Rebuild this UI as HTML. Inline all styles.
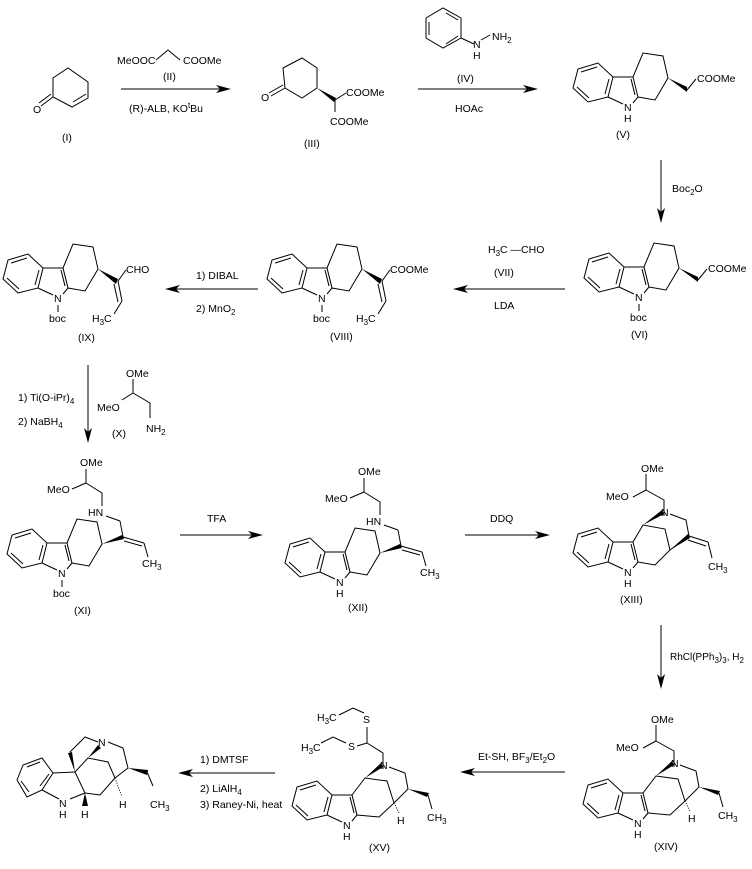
<!DOCTYPE html>
<html><head><meta charset="utf-8"><style>
html,body{margin:0;padding:0;background:#fff;}
svg{display:block;}
text{font-family:"Liberation Sans",sans-serif;font-size:10.5px;fill:#000;}
.s{font-size:8px;}
</style></head><body>
<svg width="752" height="869" viewBox="0 0 752 869" xmlns="http://www.w3.org/2000/svg">
<defs>
<g id="ind" stroke="#000" stroke-width="1" fill="none">
<polygon points="-20,-10 -15,-30 -30,-44 -50,-38 -55,-19 -40,-5"/>
<line x1="-31" y1="-40" x2="-47" y2="-35"/>
<line x1="-51" y1="-20" x2="-39" y2="-9"/>
<line x1="-23" y1="-13" x2="-19" y2="-28"/>
<line x1="-20" y1="-10" x2="-5" y2="-3"/>
<line x1="5" y1="-4" x2="10" y2="-10"/>
<line x1="10" y1="-10" x2="5" y2="-30"/>
<line x1="5" y1="-30" x2="-15" y2="-30"/>
<line x1="7" y1="-12" x2="3" y2="-28"/>
</g>
<g id="hex" stroke="#000" stroke-width="1" fill="none">
<polyline points="5,-30 15,-54 35,-51 40,-29 27,-7 10,-10"/>
</g>
<g id="acetal" stroke="#000" stroke-width="1" fill="none">
<polyline points="18,-82 36,-72 36,-56"/>
<line x1="18" y1="-82" x2="18" y2="-98"/>
<line x1="18" y1="-82" x2="5" y2="-75"/>
</g>
</defs>

<!-- (I) -->
<g stroke="#000" fill="none">
<polygon points="53,78 68,68 88,82 88,98 72,107 53,97"/>
<line x1="86" y1="94" x2="73" y2="102"/>
<line x1="53" y1="97" x2="41" y2="106"/>
<line x1="51" y1="94" x2="39" y2="103"/>
</g>
<text x="33" y="113">O</text>
<text x="62" y="141">(I)</text>

<!-- arrow 1 -->
<g stroke="#000" fill="none"><line x1="121" y1="89" x2="226" y2="89"/><polyline points="156,60 168,50 180,60"/></g>
<polygon points="231,89 216,85 220,89 216,93"/>
<text x="117" y="64">MeOOC</text><text x="183" y="64">COOMe</text>
<text x="163" y="80">(II)</text>
<text x="129" y="112">(R)-ALB, KO<tspan class="s" dy="-4">t</tspan><tspan dy="4">Bu</tspan></text>

<!-- (III) -->
<g stroke="#000" fill="none">
<polygon points="283,68 302,58 317,68 317,88 302,98 285,88"/>
<line x1="285" y1="88" x2="271" y2="96"/>
<line x1="283" y1="85" x2="269" y2="93"/>
<line x1="335" y1="100" x2="346" y2="93"/>
<line x1="335" y1="100" x2="335" y2="112"/>
</g>
<polygon points="317,88 336,98 334,102"/>
<text x="261" y="101">O</text>
<text x="346" y="96">COOMe</text>
<text x="330" y="125">COOMe</text>
<text x="304" y="147">(III)</text>

<!-- arrow 2 + (IV) -->
<g stroke="#000" fill="none">
<line x1="418" y1="89" x2="534" y2="89"/>
<polygon points="426,18 443,8 461,18 461,38 443,48 426,38"/>
<line x1="446" y1="13" x2="458" y2="20"/><line x1="458" y1="36" x2="446" y2="44"/><line x1="429" y1="22" x2="429" y2="35"/>
<line x1="461" y1="38" x2="474" y2="44"/><line x1="481" y1="40" x2="490" y2="35"/>
</g>
<polygon points="538,89 523,85 527,89 523,93"/>
<text x="473" y="48">N</text><text x="473" y="59">H</text>
<text x="492" y="40">NH<tspan class="s" dy="3">2</tspan></text>
<text x="457" y="82">(IV)</text>
<text x="455" y="112">HOAc</text>

<!-- (V) -->
<g transform="translate(628,107)">
<use href="#ind"/><use href="#hex"/>
<polygon points="40,-29 59,-20 59,-15" fill="#000"/>
<line x1="59" y1="-17" x2="68" y2="-28" stroke="#000"/>
<text x="-4" y="4">N</text><text x="-4" y="15">H</text>
<text x="69" y="-25">COOMe</text>
</g>
<text x="616" y="138">(V)</text>

<!-- Boc2O arrow -->
<line x1="661" y1="160" x2="661" y2="218" stroke="#000"/>
<polygon points="661,223 657,208 661,212 665,208"/>
<text x="672" y="192">Boc<tspan class="s" dy="3">2</tspan><tspan dy="-3">O</tspan></text>

<!-- (VI) -->
<g transform="translate(639,297)">
<use href="#ind"/><use href="#hex"/>
<polygon points="40,-29 59,-20 59,-15" fill="#000"/>
<line x1="59" y1="-17" x2="68" y2="-28" stroke="#000"/>
<text x="-4" y="4">N</text><line x1="0" y1="7" x2="0" y2="14" stroke="#000"/><text x="-9" y="24">boc</text>
<text x="69" y="-25">COOMe</text>
</g>
<text x="631" y="338">(VI)</text>

<!-- arrow VII -->
<line x1="458" y1="289" x2="565" y2="289" stroke="#000"/>
<polygon points="453,289 468,285 464,289 468,293"/>
<text x="488" y="253">H<tspan class="s" dy="3">3</tspan><tspan dy="-3">C —CHO</tspan></text>
<text x="494" y="276">(VII)</text>
<text x="494" y="309">LDA</text>

<!-- (VIII) -->
<g transform="translate(322,298)">
<use href="#ind"/><use href="#hex"/>
<polygon points="40,-29 60,-19 58,-14" fill="#000"/>
<g stroke="#000" fill="none"><line x1="60" y1="-17" x2="68" y2="-28"/><line x1="60" y1="-17" x2="64" y2="3"/><line x1="56" y1="-14" x2="60" y2="4"/><line x1="64" y1="3" x2="56" y2="16"/></g>
<text x="68" y="-25">COOMe</text>
<text x="34" y="24">H<tspan class="s" dy="3">3</tspan><tspan dy="-3">C</tspan></text>
<text x="-4" y="4">N</text><line x1="0" y1="7" x2="0" y2="14" stroke="#000"/><text x="-9" y="24">boc</text>
</g>
<text x="330" y="340">(VIII)</text>

<!-- DIBAL arrow -->
<line x1="170" y1="289" x2="258" y2="289" stroke="#000"/>
<polygon points="165,289 180,285 176,289 180,293"/>
<text x="196" y="279">1) DIBAL</text>
<text x="196" y="312">2) MnO<tspan class="s" dy="3">2</tspan></text>

<!-- (IX) -->
<g transform="translate(58,298)">
<use href="#ind"/><use href="#hex"/>
<polygon points="40,-29 60,-19 58,-14" fill="#000"/>
<g stroke="#000" fill="none"><line x1="60" y1="-17" x2="68" y2="-28"/><line x1="60" y1="-17" x2="64" y2="3"/><line x1="56" y1="-14" x2="60" y2="4"/><line x1="64" y1="3" x2="56" y2="16"/></g>
<text x="68" y="-25">CHO</text>
<text x="34" y="24">H<tspan class="s" dy="3">3</tspan><tspan dy="-3">C</tspan></text>
<text x="-4" y="4">N</text><line x1="0" y1="7" x2="0" y2="14" stroke="#000"/><text x="-9" y="24">boc</text>
</g>
<text x="78" y="341">(IX)</text>

<!-- arrow down IX->XI with (X) -->
<line x1="88" y1="365" x2="88" y2="438" stroke="#000"/>
<polygon points="88,443 84,428 88,432 92,428"/>
<text x="18" y="401">1) Ti(O-iPr)<tspan class="s" dy="3">4</tspan></text>
<text x="18" y="425">2) NaBH<tspan class="s" dy="3">4</tspan></text>
<g stroke="#000" fill="none"><line x1="133" y1="379" x2="133" y2="393"/><line x1="133" y1="393" x2="122" y2="400"/><polyline points="133,393 150,403 150,418"/></g>
<text x="126" y="377">OMe</text>
<text x="97" y="411">MeO</text>
<text x="146" y="432">NH<tspan class="s" dy="3">2</tspan></text>
<text x="112" y="437">(X)</text>

<!-- (XI) -->
<g transform="translate(62,573)">
<use href="#ind"/><use href="#hex"/>
<polygon points="40,-29 60,-38 62,-34" fill="#000"/>
<g stroke="#000" fill="none">
<line x1="61" y1="-36" x2="58" y2="-52"/><line x1="58" y1="-52" x2="44" y2="-57"/>
<line x1="61" y1="-36" x2="82" y2="-30"/><line x1="62" y1="-32" x2="80" y2="-27"/><line x1="82" y1="-30" x2="86" y2="-16"/>
<polyline points="40,-67 40,-80 24,-90"/><line x1="24" y1="-90" x2="24" y2="-104"/><line x1="24" y1="-90" x2="10" y2="-84"/>
</g>
<text x="26" y="-57">HN</text>
<text x="18" y="-107">OMe</text>
<text x="-15" y="-80">MeO</text>
<text x="80" y="-6">CH<tspan class="s" dy="3">3</tspan></text>
<text x="-4" y="4">N</text><line x1="0" y1="7" x2="0" y2="14" stroke="#000"/><text x="-9" y="24">boc</text>
</g>
<text x="74" y="614">(XI)</text>

<!-- TFA -->
<line x1="180" y1="535" x2="258" y2="535" stroke="#000"/>
<polygon points="263,535 248,531 252,535 248,539"/>
<text x="207" y="522">TFA</text>

<!-- (XII) -->
<g transform="translate(340,582)">
<use href="#ind"/><use href="#hex"/>
<polygon points="40,-29 60,-38 62,-34" fill="#000"/>
<g stroke="#000" fill="none">
<line x1="61" y1="-36" x2="58" y2="-52"/><line x1="58" y1="-52" x2="44" y2="-57"/>
<line x1="61" y1="-36" x2="82" y2="-30"/><line x1="62" y1="-32" x2="80" y2="-27"/><line x1="82" y1="-30" x2="86" y2="-16"/>
<polyline points="40,-67 40,-80 24,-90"/><line x1="24" y1="-90" x2="24" y2="-104"/><line x1="24" y1="-90" x2="10" y2="-84"/>
</g>
<text x="26" y="-57">HN</text>
<text x="18" y="-107">OMe</text>
<text x="-15" y="-80">MeO</text>
<text x="80" y="-6">CH<tspan class="s" dy="3">3</tspan></text>
<text x="-4" y="4">N</text><text x="-4" y="15">H</text>
</g>
<text x="348" y="611">(XII)</text>

<!-- DDQ -->
<line x1="465" y1="535" x2="545" y2="535" stroke="#000"/>
<polygon points="550,535 535,531 539,535 535,539"/>
<text x="490" y="522">DDQ</text>

<!-- (XIII) -->
<g transform="translate(628,572)">
<use href="#ind"/>
<g stroke="#000" fill="none">
<polyline points="5,-30 15,-47 37,-43 42,-22 27,-7 10,-10"/>
<polyline points="42,-58 58,-52 61,-36"/>
<line x1="61" y1="-36" x2="80" y2="-30"/><line x1="60" y1="-32" x2="78" y2="-26"/><line x1="80" y1="-30" x2="84" y2="-14"/>
<line x1="61" y1="-36" x2="42" y2="-22"/>
<use href="#acetal"/>
</g>
<polygon points="15,-47 34,-62 36,-58" fill="#000"/>
<polygon points="42,-22 60,-38 62,-34" fill="#000"/>
<text x="33" y="-56">N</text>
<text x="13" y="-100">OMe</text>
<text x="-22" y="-72">MeO</text>
<text x="80" y="-2">CH<tspan class="s" dy="3">3</tspan></text>
<text x="-4" y="4">N</text><text x="-4" y="15">H</text>
</g>
<text x="620" y="603">(XIII)</text>

<!-- RhCl arrow -->
<line x1="661" y1="625" x2="661" y2="684" stroke="#000"/>
<polygon points="661,689 657,674 661,678 665,674"/>
<text x="670" y="660" style="font-size:10px">RhCl(PPh<tspan class="s" dy="3">3</tspan><tspan dy="-3">)</tspan><tspan class="s" dy="3">3</tspan><tspan dy="-3">, H</tspan><tspan class="s" dy="3">2</tspan></text>

<!-- (XIV) -->
<g transform="translate(638,823)">
<use href="#ind"/>
<g stroke="#000" fill="none">
<polyline points="5,-30 18,-47 40,-44 47,-22 32,-8 10,-10"/>
<polyline points="42,-58 58,-52 61,-36 47,-22"/>
<line x1="81" y1="-30" x2="85" y2="-16"/>
<line x1="47" y1="-22" x2="52" y2="-12" stroke-dasharray="1,1.5"/>
<use href="#acetal"/>
</g>
<polygon points="18,-47 34,-62 36,-58" fill="#000"/>
<polygon points="61,-36 82,-32 80,-28" fill="#000"/>
<text x="33" y="-56">N</text>
<text x="50" y="-1">H</text>
<text x="13" y="-100">OMe</text>
<text x="-22" y="-72">MeO</text>
<text x="80" y="-4">CH<tspan class="s" dy="3">3</tspan></text>
<text x="-4" y="4">N</text><text x="-4" y="15">H</text>
</g>
<text x="654" y="850">(XIV)</text>

<!-- Et-SH arrow -->
<line x1="465" y1="772" x2="565" y2="772" stroke="#000"/>
<polygon points="460,772 475,768 471,772 475,776"/>
<text x="478" y="760">Et-SH, BF<tspan class="s" dy="3">3</tspan><tspan dy="-3">/Et</tspan><tspan class="s" dy="3">2</tspan><tspan dy="-3">O</tspan></text>

<!-- (XV) -->
<g transform="translate(347,825)">
<use href="#ind"/>
<g stroke="#000" fill="none">
<polyline points="5,-30 18,-47 40,-44 47,-22 32,-8 10,-10"/>
<polyline points="42,-58 58,-52 61,-36 47,-22"/>
<line x1="81" y1="-30" x2="85" y2="-16"/>
<line x1="47" y1="-22" x2="52" y2="-12" stroke-dasharray="1,1.5"/>
<polyline points="36,-56 36,-72 20,-82"/>
<line x1="20" y1="-82" x2="20" y2="-98"/>
<line x1="20" y1="-82" x2="10" y2="-79"/>
<polyline points="17,-112 6,-117 -8,-110"/>
<polyline points="-1,-82 -14,-88 -26,-82"/>
</g>
<polygon points="18,-47 34,-62 36,-58" fill="#000"/>
<polygon points="61,-36 82,-32 80,-28" fill="#000"/>
<text x="33" y="-56">N</text>
<text x="50" y="-1">H</text>
<text x="16" y="-102">S</text>
<text x="1" y="-75">S</text>
<text x="-30" y="-104">H<tspan class="s" dy="3">3</tspan><tspan dy="-3">C</tspan></text>
<text x="-46" y="-74">H<tspan class="s" dy="3">3</tspan><tspan dy="-3">C</tspan></text>
<text x="80" y="-4">CH<tspan class="s" dy="3">3</tspan></text>
<text x="-4" y="4">N</text><text x="-4" y="15">H</text>
</g>
<text x="369" y="851">(XV)</text>

<!-- DMTSF arrow -->
<line x1="183" y1="773" x2="275" y2="773" stroke="#000"/>
<polygon points="178,773 193,769 189,773 193,777"/>
<text x="200" y="763">1) DMTSF</text>
<text x="200" y="792">2) LiAlH<tspan class="s" dy="3">4</tspan></text>
<text x="200" y="808">3) Raney-Ni, heat</text>

<!-- final product -->
<g stroke="#000" fill="none">
<polygon points="17,780 23,765 42,758 53,773 42,790 27,797"/>
<line x1="27" y1="767" x2="40" y2="762"/><line x1="21" y1="781" x2="29" y2="792"/><line x1="49" y1="774" x2="40" y2="786"/>
<line x1="42" y1="790" x2="59" y2="799"/>
<line x1="70" y1="799" x2="85" y2="793"/>
<line x1="53" y1="773" x2="75" y2="772"/>
<line x1="75" y1="772" x2="85" y2="793"/>
<polyline points="70,752 85,737 98,742"/>
<polyline points="75,772 88,758 108,762 115,778 100,795 85,793"/>
<polyline points="108,742 123,748 128,768 115,778"/>
<line x1="147" y1="772" x2="153" y2="786"/>
<line x1="115" y1="778" x2="122" y2="797" stroke-dasharray="1,1.5"/>
</g>
<polygon points="75,772 68,753 72,752" fill="#000"/>
<polygon points="88,758 98,745 101,748" fill="#000"/>
<polygon points="85,793 82,806 88,806" fill="#000"/>
<polygon points="128,768 148,770 147,775" fill="#000"/>
<text x="98" y="746">N</text>
<text x="59" y="807">N</text><text x="59" y="818">H</text>
<text x="81" y="818">H</text>
<text x="119" y="808">H</text>
<text x="150" y="808">CH<tspan class="s" dy="3">3</tspan></text>
</svg>
</body></html>
